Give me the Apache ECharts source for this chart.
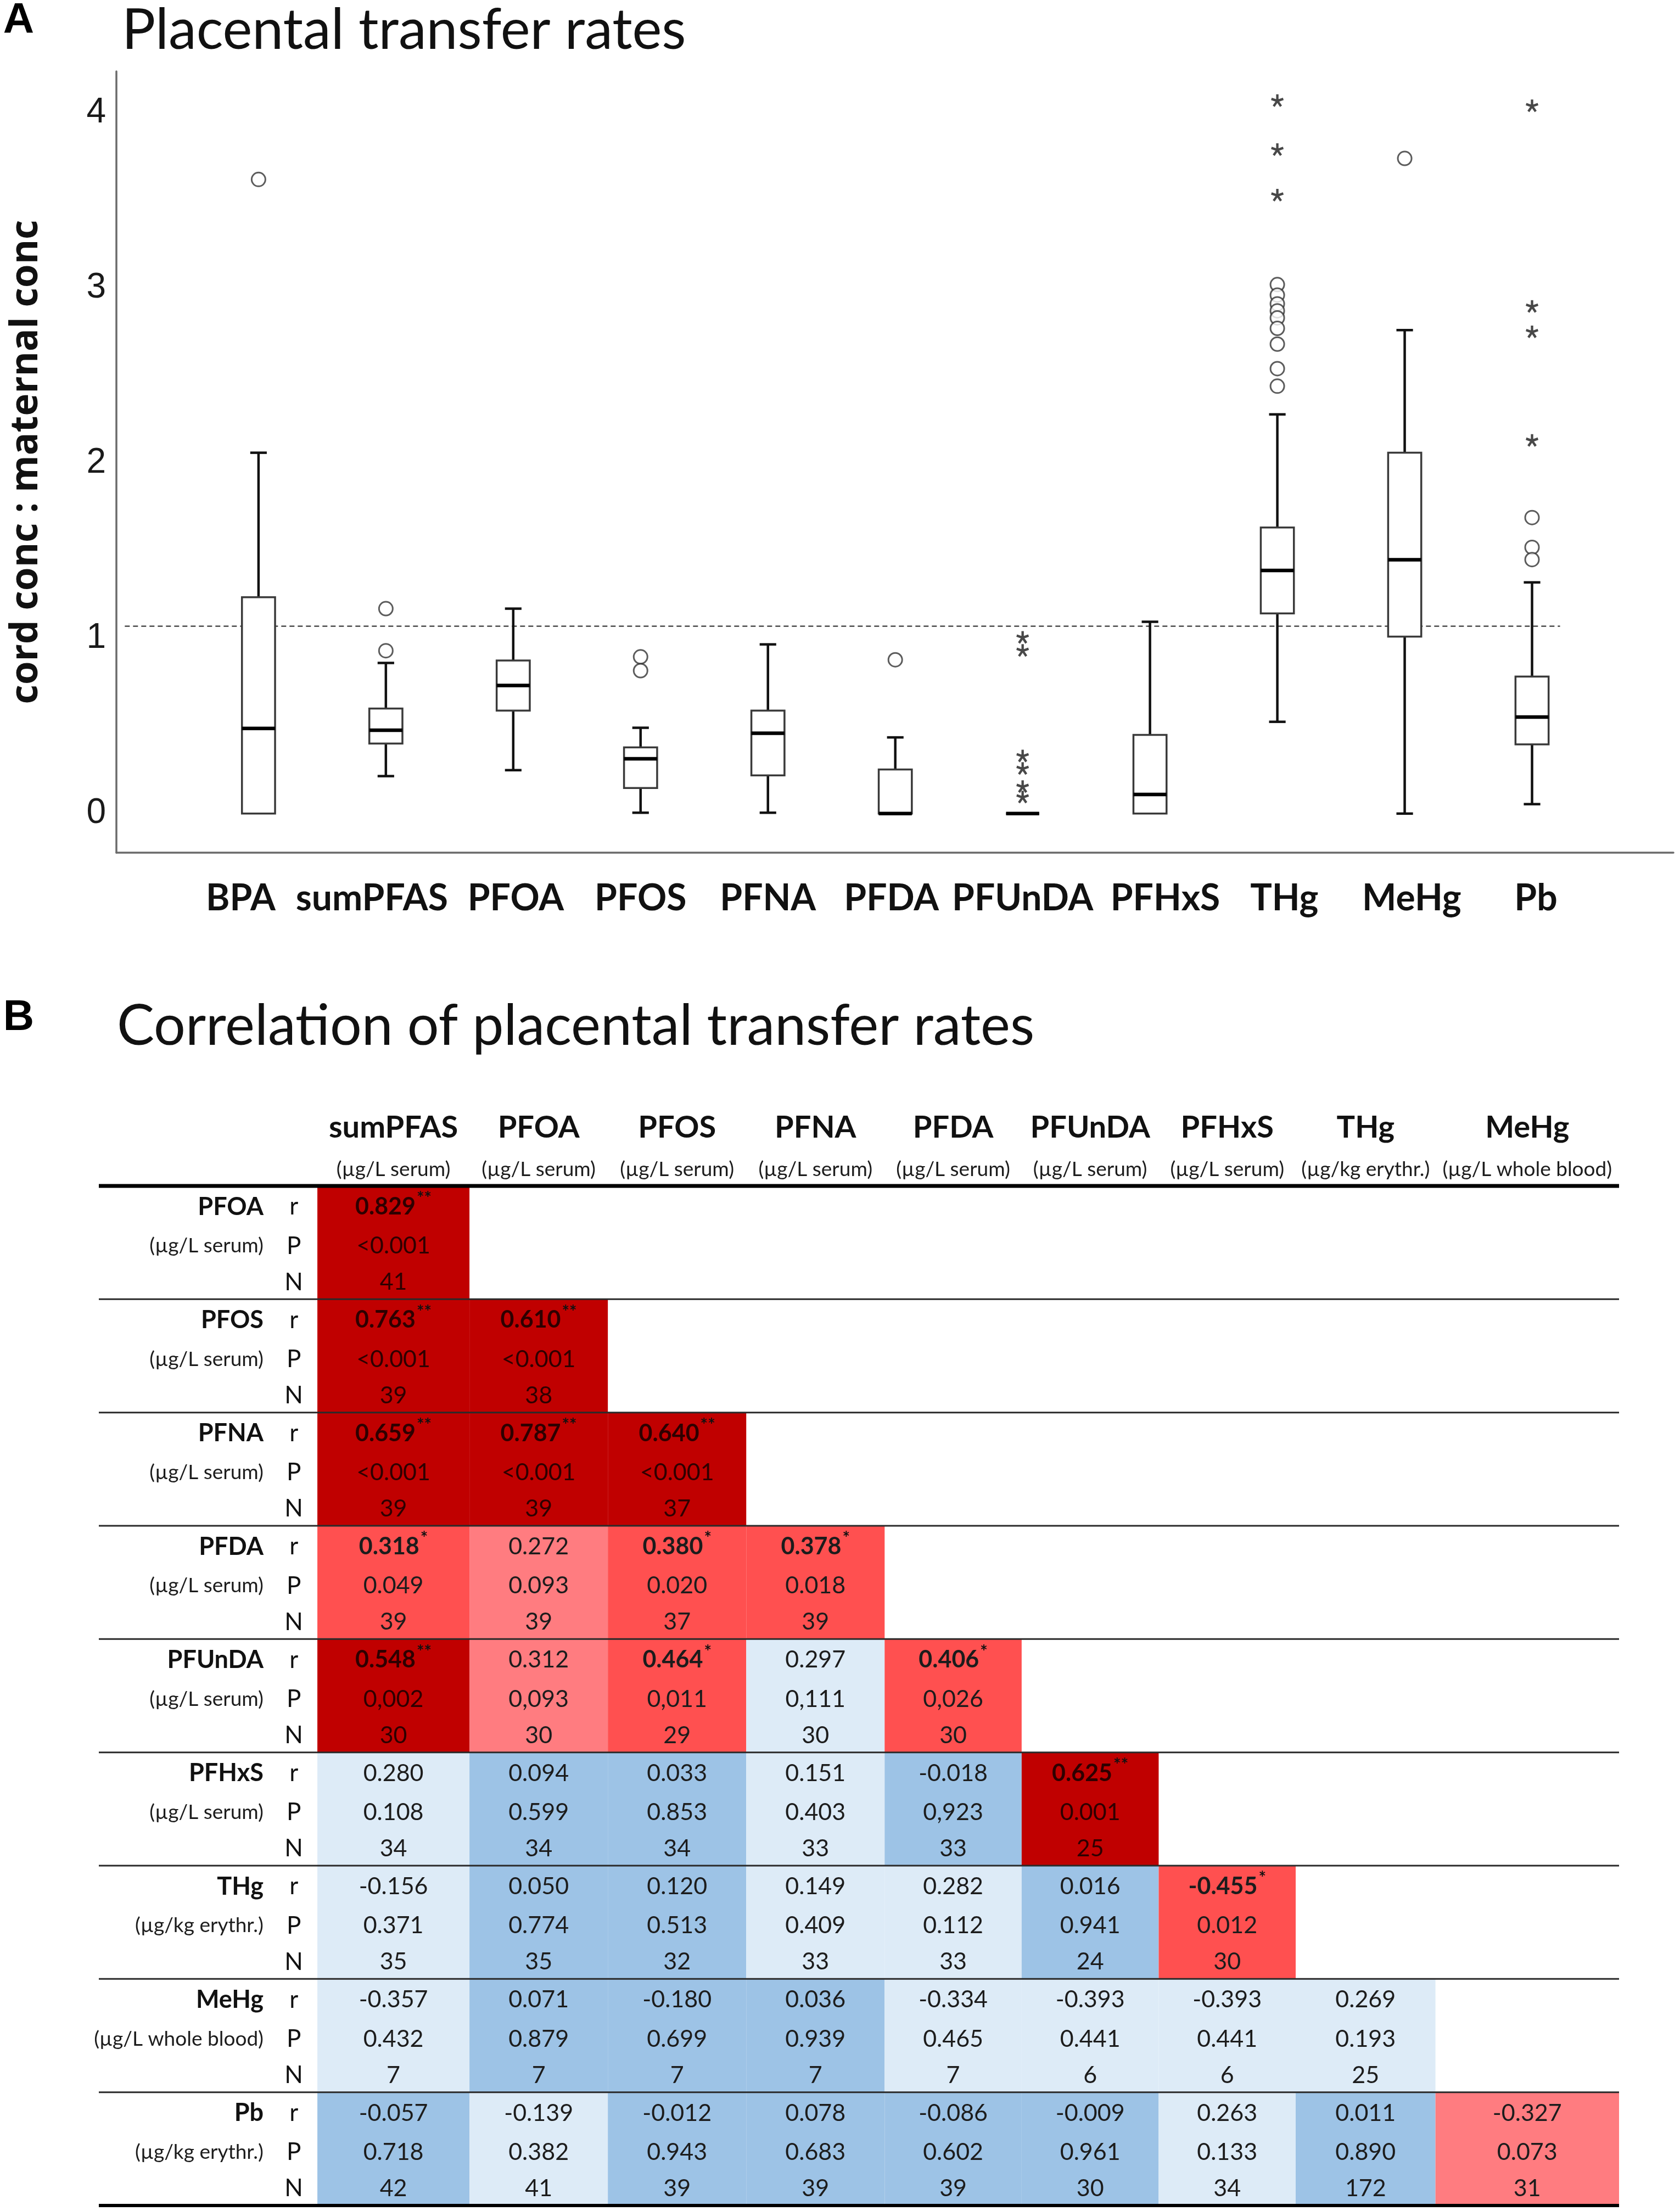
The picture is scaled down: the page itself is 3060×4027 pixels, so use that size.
<!DOCTYPE html>
<html>
<head>
<meta charset="utf-8">
<title>Placental transfer rates</title>
<script src="https://cdn.jsdelivr.net/npm/echarts@6/dist/echarts.min.js"></script>
<style>
  html, body { margin: 0; padding: 0; background: #fff; }
  #chart { width: 3060px; height: 4027px; }
</style>
</head>
<body>
<div id="chart"></div>
<script>
// ---------- Panel A: cord : maternal concentration ratios ----------
const compounds = ['BPA', 'sumPFAS', 'PFOA', 'PFOS', 'PFNA', 'PFDA', 'PFUnDA', 'PFHxS', 'THg', 'MeHg', 'Pb'];

// [min, Q1, median, Q3, max]
const boxStats = [
  [0, 0, 0.486, 1.235, 2.06],
  [0.214, 0.40, 0.476, 0.60, 0.86],
  [0.248, 0.588, 0.731, 0.874, 1.17],
  [0.005, 0.146, 0.313, 0.378, 0.49],
  [0.005, 0.218, 0.459, 0.588, 0.966],
  [0, 0, 0, 0.252, 0.435],
  [0, 0, 0, 0, 0],
  [0, 0, 0.109, 0.449, 1.095],
  [0.524, 1.143, 1.388, 1.633, 2.279],
  [0, 1.01, 1.449, 2.06, 2.76],
  [0.054, 0.395, 0.551, 0.782, 1.32]
];

// outliers (circles) and extreme values (stars)
const circleOutliers = [
  ['BPA', 3.62],
  ['sumPFAS', 1.17], ['sumPFAS', 0.93],
  ['PFOS', 0.895], ['PFOS', 0.816],
  ['PFDA', 0.878],
  ['THg', 3.02], ['THg', 2.96], ['THg', 2.91], ['THg', 2.87], ['THg', 2.83],
  ['THg', 2.77], ['THg', 2.68], ['THg', 2.54], ['THg', 2.44],
  ['MeHg', 3.74],
  ['Pb', 1.69], ['Pb', 1.52], ['Pb', 1.45]
];
const starOutliers = [
  ['PFUnDA', 1.006], ['PFUnDA', 0.931], ['PFUnDA', 0.329],
  ['PFUnDA', 0.257], ['PFUnDA', 0.154], ['PFUnDA', 0.094],
  ['THg', 4.07], ['THg', 3.79], ['THg', 3.53],
  ['Pb', 4.04], ['Pb', 2.895], ['Pb', 2.75], ['Pb', 2.13]
];

const yTicks = [0, 1, 2, 3, 4];
const refLineY = 1.07;
const refLineSpan = [-1.05, 10.22];

// ---------- Panel B: correlation table ----------
const rowNames = ['PFOA', 'PFOS', 'PFNA', 'PFDA', 'PFUnDA', 'PFHxS', 'THg', 'MeHg', 'Pb'];
const rowUnits = ['(µg/L serum)', '(µg/L serum)', '(µg/L serum)', '(µg/L serum)', '(µg/L serum)',
  '(µg/L serum)', '(µg/kg erythr.)', '(µg/L whole blood)', '(µg/kg erythr.)'];
const colNames = ['sumPFAS', 'PFOA', 'PFOS', 'PFNA', 'PFDA', 'PFUnDA', 'PFHxS', 'THg', 'MeHg'];
const colUnits = ['(µg/L serum)', '(µg/L serum)', '(µg/L serum)', '(µg/L serum)', '(µg/L serum)',
  '(µg/L serum)', '(µg/L serum)', '(µg/kg erythr.)', '(µg/L whole blood)'];

const rValues = [
  ['0.829'],
  ['0.763', '0.610'],
  ['0.659', '0.787', '0.640'],
  ['0.318', '0.272', '0.380', '0.378'],
  ['0.548', '0.312', '0.464', '0.297', '0.406'],
  ['0.280', '0.094', '0.033', '0.151', '-0.018', '0.625'],
  ['-0.156', '0.050', '0.120', '0.149', '0.282', '0.016', '-0.455'],
  ['-0.357', '0.071', '-0.180', '0.036', '-0.334', '-0.393', '-0.393', '0.269'],
  ['-0.057', '-0.139', '-0.012', '0.078', '-0.086', '-0.009', '0.263', '0.011', '-0.327']
];
const pValues = [
  ['<0.001'],
  ['<0.001', '<0.001'],
  ['<0.001', '<0.001', '<0.001'],
  ['0.049', '0.093', '0.020', '0.018'],
  ['0,002', '0,093', '0,011', '0,111', '0,026'],
  ['0.108', '0.599', '0.853', '0.403', '0,923', '0.001'],
  ['0.371', '0.774', '0.513', '0.409', '0.112', '0.941', '0.012'],
  ['0.432', '0.879', '0.699', '0.939', '0.465', '0.441', '0.441', '0.193'],
  ['0.718', '0.382', '0.943', '0.683', '0.602', '0.961', '0.133', '0.890', '0.073']
];
const nValues = [
  [41],
  [39, 38],
  [39, 39, 37],
  [39, 39, 37, 39],
  [30, 30, 29, 30, 30],
  [34, 34, 34, 33, 33, 25],
  [35, 35, 32, 33, 33, 24, 30],
  [7, 7, 7, 7, 7, 6, 6, 25],
  [42, 41, 39, 39, 39, 30, 34, 172, 31]
];

// ---------- layout / style ----------
// small horizontal nudges of the category labels, as set in the original figure
const labelNudge = [-0.14, -0.11, 0.02, 0, 0, -0.03, 0, 0.12, 0.055, 0.055, 0.03];
const colWidths = [1.11, 1.01, 1.01, 1.01, 1.0, 1.0, 1.0, 1.02, 1.34];
const colEdges = colWidths.reduce((acc, w) => { acc.push(acc[acc.length - 1] + w); return acc; }, [0]);
const tableLeft = -1.595;
const rowNameX = -0.393;
const letterX = -0.172;
const subRowPos = [0.185, 0.53, 0.85];
const headNameY = -0.514;
const headUnitY = -0.145;

const cellColors = {
  strong: '#C00000',
  sig: '#FF5050',
  trend: '#FF7C80',
  weak: '#DDEBF7',
  none: '#9DC3E6'
};

function pNumber(s) {
  return parseFloat(s.replace(',', '.').replace('<', ''));
}

// five-armed asterisk symbol
function asteriskPath(arms, r, w) {
  let d = '';
  for (let k = 0; k < arms; k++) {
    const a = (-90 + k * 360 / arms) * Math.PI / 180;
    const dx = Math.cos(a), dy = Math.sin(a);
    const px = -dy * w, py = dx * w;
    const pts = [[px, py], [dx * r + px, dy * r + py], [dx * r - px, dy * r - py], [-px, -py]];
    d += 'M' + pts.map(p => p[0].toFixed(1) + ' ' + p[1].toFixed(1)).join(' L') + ' Z ';
  }
  return 'path://' + d;
}

const idx = name => compounds.indexOf(name);

function renderBox(params, api) {
  const i = api.value(0);
  const lo = api.value(1), q1 = api.value(2), med = api.value(3), q3 = api.value(4), hi = api.value(5);
  const x = api.coord([i, 0])[0];
  const y = v => api.coord([i, v])[1];
  const half = api.size([1, 0])[0] * 0.13;
  const cap = half * 0.5;
  const whisker = { stroke: '#111', lineWidth: 4.5 };
  const children = [];
  if (hi > q3) {
    children.push({ type: 'line', shape: { x1: x, y1: y(q3), x2: x, y2: y(hi) }, style: whisker });
    children.push({ type: 'line', shape: { x1: x - cap, y1: y(hi), x2: x + cap, y2: y(hi) }, style: whisker });
  }
  if (lo < q1) {
    children.push({ type: 'line', shape: { x1: x, y1: y(q1), x2: x, y2: y(lo) }, style: whisker });
    children.push({ type: 'line', shape: { x1: x - cap, y1: y(lo), x2: x + cap, y2: y(lo) }, style: whisker });
  }
  children.push({
    type: 'rect',
    shape: { x: x - half, y: y(q3), width: half * 2, height: y(q1) - y(q3) },
    style: { fill: '#fff', stroke: '#3a3a3a', lineWidth: 3.5 }
  });
  children.push({
    type: 'line',
    shape: { x1: x - half, y1: y(med), x2: x + half, y2: y(med) },
    style: { stroke: '#000', lineWidth: 6.5 }
  });
  return { type: 'group', children };
}

function renderCell(params, api) {
  const c = api.value(0), r = api.value(1);
  const p0 = api.coord([colEdges[c], r]);
  const p1 = api.coord([colEdges[c + 1], r + 1]);
  const cx = (p0[0] + p1[0]) / 2;
  const rowY = k => api.coord([0, r + subRowPos[k]])[1];
  const p = pNumber(pValues[r][c]);
  const stars = p < 0.01 ? '**' : p < 0.05 ? '*' : '';
  const fill = p < 0.01 ? cellColors.strong : p < 0.05 ? cellColors.sig
    : p < 0.1 ? cellColors.trend : p < 0.5 ? cellColors.weak : cellColors.none;
  const ink = p < 0.01 ? '#2e0000' : '#1c1c1c';
  const base = { fontFamily: 'Lato', fontSize: 43, fill: ink, align: 'center', verticalAlign: 'middle' };
  const rText = stars ? '{b|' + rValues[r][c] + '}{s|' + stars + '}' : '{n|' + rValues[r][c] + '}';
  return {
    type: 'group',
    children: [
      { type: 'rect', shape: { x: p0[0], y: p0[1], width: p1[0] - p0[0], height: p1[1] - p0[1] }, style: { fill } },
      {
        type: 'text', x: cx, y: rowY(0),
        style: Object.assign({}, base, {
          text: rText,
          rich: {
            b: { fontFamily: 'Lato', fontSize: 43, fontWeight: 'bold', fill: ink, lineHeight: 60 },
            n: { fontFamily: 'Lato', fontSize: 43, fill: ink, lineHeight: 60 },
            s: { fontFamily: 'Lato', fontSize: 32, fontWeight: 'bold', fill: '#111', lineHeight: 30, verticalAlign: 'top', padding: [0, 0, 0, 2] }
          }
        })
      },
      { type: 'text', x: cx, y: rowY(1), style: Object.assign({}, base, { text: pValues[r][c] }) },
      { type: 'text', x: cx, y: rowY(2), style: Object.assign({}, base, { text: String(nValues[r][c]) }) }
    ]
  };
}

function renderRowHead(params, api) {
  const r = api.value(1);
  const at = (x, k) => api.coord([x, r + subRowPos[k]]);
  const nameP = at(rowNameX, 0), unitP = at(rowNameX, 1);
  const children = [
    { type: 'text', x: nameP[0], y: nameP[1], style: { text: rowNames[r], align: 'right', verticalAlign: 'middle', fontFamily: 'Lato', fontWeight: 'bold', fontSize: 45, fill: '#111' } },
    { type: 'text', x: unitP[0], y: unitP[1], style: { text: rowUnits[r], align: 'right', verticalAlign: 'middle', fontFamily: 'Lato', fontSize: 37, fill: '#1c1c1c' } }
  ];
  ['r', 'P', 'N'].forEach((t, k) => {
    const pt = at(letterX, k);
    children.push({ type: 'text', x: pt[0], y: pt[1], style: { text: t, align: 'center', verticalAlign: 'middle', fontFamily: 'Lato', fontSize: 44, fill: '#111' } });
  });
  return { type: 'group', children };
}

function renderColHead(params, api) {
  const c = api.value(0);
  const mid = (colEdges[c] + colEdges[c + 1]) / 2;
  const nameP = api.coord([mid, headNameY]);
  const unitP = api.coord([mid, headUnitY]);
  return {
    type: 'group',
    children: [
      { type: 'text', x: nameP[0], y: nameP[1], style: { text: colNames[c], align: 'center', verticalAlign: 'middle', fontFamily: 'Lato', fontWeight: 'bold', fontSize: 56, fill: '#111' } },
      { type: 'text', x: unitP[0], y: unitP[1], style: { text: colUnits[c], align: 'center', verticalAlign: 'middle', fontFamily: 'Lato', fontSize: 37, fill: '#1c1c1c' } }
    ]
  };
}

function renderRule(params, api) {
  const i = api.value(1);
  const a = api.coord([tableLeft, i]);
  const b = api.coord([colEdges[colEdges.length - 1], i]);
  const edge = i === 0 || i === rowNames.length;
  const w = i === 0 ? 7 : edge ? 6 : 3;
  return { type: 'line', shape: { x1: a[0], y1: a[1], x2: b[0], y2: b[1] }, style: { stroke: edge ? '#000' : '#2a2a2a', lineWidth: w } };
}

const cellData = [];
rValues.forEach((row, r) => row.forEach((_, c) => cellData.push([c, r])));

const axisLineStyle = { color: '#6a6a6a', width: 3.5 };

const chart = echarts.init(document.getElementById('chart'));
chart.setOption({
  animation: false,
  backgroundColor: '#fff',
  graphic: [
    { type: 'text', x: 34, y: 38, style: { text: 'A', fontFamily: 'Liberation Sans', fontWeight: 'bold', fontSize: 78, fill: '#000', align: 'center', verticalAlign: 'middle' } },
    { type: 'text', x: 222, y: 56, style: { text: 'Placental transfer rates', fontFamily: 'Lato', fontSize: 102, fill: '#111', align: 'left', verticalAlign: 'middle' } },
    { type: 'text', x: 34, y: 1854, style: { text: 'B', fontFamily: 'Liberation Sans', fontWeight: 'bold', fontSize: 78, fill: '#000', align: 'center', verticalAlign: 'middle' } },
    { type: 'text', x: 213, y: 1870, style: { text: 'Correlation of placental transfer rates', fontFamily: 'Lato', fontSize: 102, fill: '#111', align: 'left', verticalAlign: 'middle' } }
  ],
  grid: [
    { left: 210, top: 130, width: 2838, height: 1423 },
    { left: 180, top: 2160, width: 2769, height: 1857 }
  ],
  xAxis: [
    {
      gridIndex: 0, type: 'value', min: -1.116, max: 11.11,
      axisLine: { show: true, onZero: false, lineStyle: axisLineStyle },
      axisTick: { show: false },
      splitLine: { show: false },
      axisLabel: {
        customValues: compounds.map((_, i) => i + labelNudge[i]),
        formatter: v => compounds[Math.round(v)] || '',
        fontFamily: 'Lato', fontWeight: 'bold', fontSize: 66, color: '#111',
        margin: 51, lineHeight: 66
      }
    },
    { gridIndex: 1, type: 'value', min: tableLeft, max: colEdges[colEdges.length - 1], show: false }
  ],
  yAxis: [
    {
      gridIndex: 0, type: 'value', min: -0.223, max: 4.237,
      axisLine: { show: true, onZero: false, lineStyle: axisLineStyle },
      axisTick: { show: false },
      splitLine: { show: false },
      axisLabel: {
        customValues: yTicks,
        fontFamily: 'Liberation Sans', fontSize: 64, color: '#1a1a1a', margin: 19
      },
      name: 'cord conc : maternal conc',
      nameLocation: 'middle',
      nameRotate: 90,
      nameGap: 124,
      nameTextStyle: { fontFamily: 'Open Sans', fontWeight: 'bold', fontSize: 69, color: '#111', lineHeight: 80 }
    },
    { gridIndex: 1, type: 'value', min: 0, max: rowNames.length, inverse: true, show: false }
  ],
  series: [
    {
      type: 'line', xAxisIndex: 0, yAxisIndex: 0, silent: true, z: 1,
      data: [[refLineSpan[0], refLineY], [refLineSpan[1], refLineY]],
      symbol: 'none',
      lineStyle: { color: '#222', width: 2, type: [9, 6] }
    },
    {
      type: 'custom', xAxisIndex: 0, yAxisIndex: 0, silent: true, z: 2,
      renderItem: renderBox,
      encode: { x: 0, y: [1, 2, 3, 4, 5] },
      data: boxStats.map((s, i) => [i].concat(s))
    },
    {
      type: 'scatter', xAxisIndex: 0, yAxisIndex: 0, silent: true, z: 3,
      symbol: 'circle', symbolSize: 25,
      itemStyle: { color: '#fff', borderColor: '#333', borderWidth: 3 },
      data: circleOutliers.map(d => [idx(d[0]), d[1]])
    },
    {
      type: 'scatter', xAxisIndex: 0, yAxisIndex: 0, silent: true, z: 3,
      symbol: asteriskPath(5, 10, 1.9), symbolSize: 23,
      itemStyle: { color: '#1a1a1a' },
      data: starOutliers.map(d => [idx(d[0]), d[1]])
    },
    {
      type: 'custom', xAxisIndex: 1, yAxisIndex: 1, silent: true, z: 1,
      renderItem: renderCell,
      data: cellData
    },
    {
      type: 'custom', xAxisIndex: 1, yAxisIndex: 1, silent: true, z: 2,
      renderItem: renderRule,
      data: Array.from({ length: rowNames.length + 1 }, (_, i) => [0, i])
    },
    {
      type: 'custom', xAxisIndex: 1, yAxisIndex: 1, silent: true, z: 2,
      renderItem: renderRowHead,
      data: rowNames.map((_, i) => [0, i])
    },
    {
      type: 'custom', xAxisIndex: 1, yAxisIndex: 1, silent: true, z: 2,
      renderItem: renderColHead,
      data: colNames.map((_, i) => [i, 0])
    }
  ]
});
</script>
</body>
</html>
